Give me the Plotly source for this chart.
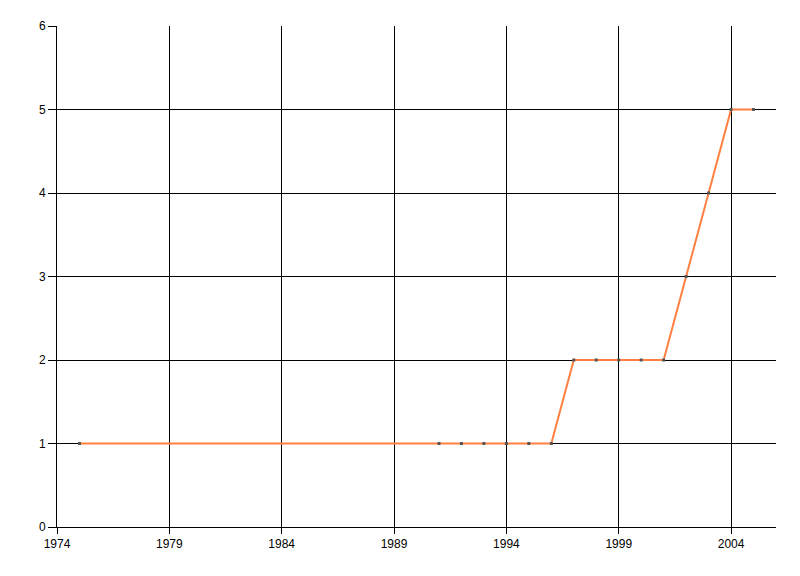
import plotly.graph_objects as go

years = [1975, 1991, 1992, 1993, 1994, 1995, 1996, 1997, 1998, 1999, 2000, 2001, 2002, 2003, 2004, 2005]
values = [1, 1, 1, 1, 1, 1, 1, 2, 2, 2, 2, 2, 3, 4, 5, 5]
x_ticks = [1974, 1979, 1984, 1989, 1994, 1999, 2004]
y_ticks = [0, 1, 2, 3, 4, 5, 6]

fig = go.Figure()
fig.add_trace(go.Scatter(
    x=years, y=values, mode="lines+markers",
    line=dict(color="#FF8040", width=2),
    marker=dict(symbol="square", size=3, color="#555555"),
    showlegend=False,
))

font = dict(family="Liberation Sans, Arial, sans-serif", size=12, color="black")
fig.update_layout(
    width=800, height=576,
    margin=dict(l=49, r=32, t=18, b=57),
    paper_bgcolor="white", plot_bgcolor="white",
    font=font,
    xaxis=dict(range=[1974, 2006], tickvals=x_ticks, ticktext=[str(v) for v in x_ticks],
               showgrid=True, gridcolor="black", gridwidth=1,
               showline=True, linecolor="black", linewidth=1,
               ticks="outside", ticklen=6, tickcolor="black", zeroline=False,
               tickfont=font),
    yaxis=dict(range=[0, 6], tickvals=y_ticks,
               showgrid=True, gridcolor="black", gridwidth=1,
               showline=True, linecolor="black", linewidth=1,
               ticks="outside", ticklen=8, tickcolor="black", zeroline=False,
               tickfont=font),
)
fig.write_html("out.html")
